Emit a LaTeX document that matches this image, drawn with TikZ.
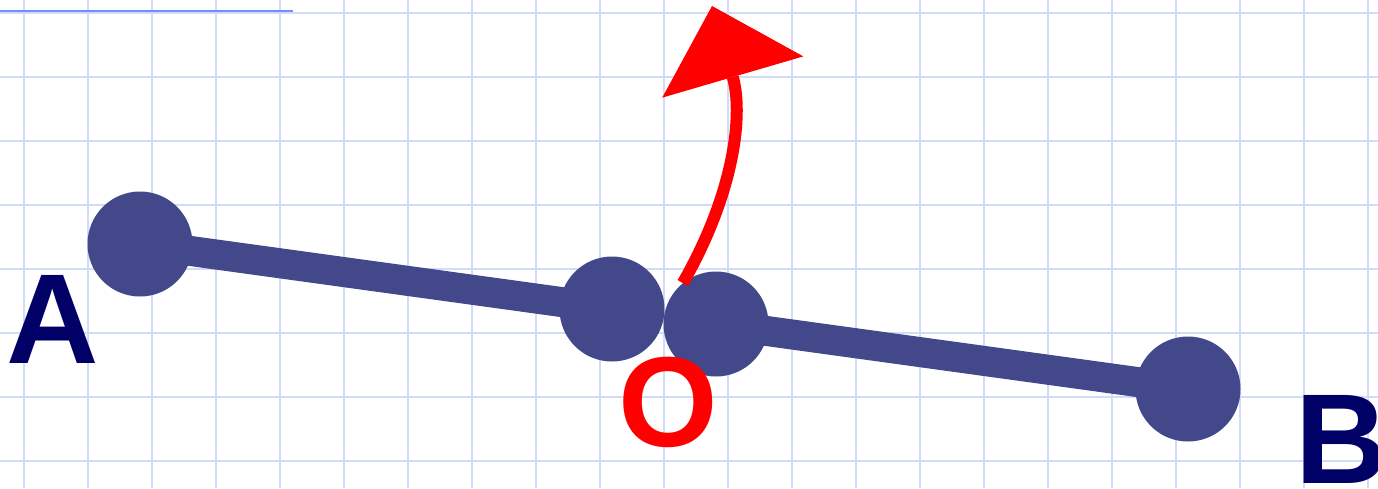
\documentclass[tikz,border=0pt]{standalone}
\usepackage{fontspec}
\setmainfont{Liberation Sans}
\usetikzlibrary{arrows.meta}
\definecolor{barblue}{RGB}{66,72,137}
\definecolor{gridblue}{RGB}{208,220,248}
\definecolor{topblue}{RGB}{112,144,255}
\definecolor{labnavy}{RGB}{0,0,102}
\tikzset{
  joint/.style={circle, fill=barblue, inner sep=0pt, minimum size=105pt},
  bar/.style={barblue, line width=30pt},
  letter/.style={inner sep=0pt, font=\fontsize{128}{128}\selectfont\bfseries}
}

\begin{document}
\begin{tikzpicture}[x=1pt, y=-1pt]
    \useasboundingbox (0,0) rectangle (1378,488);
    \fill[white] (0,0) rectangle (1378,488);
    \foreach \gx in {0,...,21}
      \draw[gridblue, line width=2pt] (24+64*\gx,0) -- (24+64*\gx,488);
    \foreach \gy in {0,...,7}
      \draw[gridblue, line width=2pt] (0,13+64*\gy) -- (1378,13+64*\gy);
    \draw[topblue, line width=2.5pt] (0,11) -- (293,11);

    \node[joint] (A) at (140,244) {};
    \node[joint] (Ol) at (612,309) {};
    \node[joint] (Or) at (716,324) {};
    \node[joint] (B) at (1188,389) {};
    \draw[bar] (A.center) -- (Ol.center);
    \draw[bar] (Or.center) -- (B.center);

    \coordinate (tip) at (712,6);
    \draw[red, line width=12pt, -{Triangle[length=74pt, width=147pt, line width=0pt]}]
      (Or.129) .. controls (736,190) and (743,112) .. (tip);

    \node[letter, text=labnavy, anchor=base west] (labA) at (6,363) {A};
    \node[letter, text=red, anchor=base] (labO) at (668,446) {O};
    \node[letter, text=labnavy, anchor=base west] (labB) at (1295,483) {B};
\end{tikzpicture}
\end{document}
